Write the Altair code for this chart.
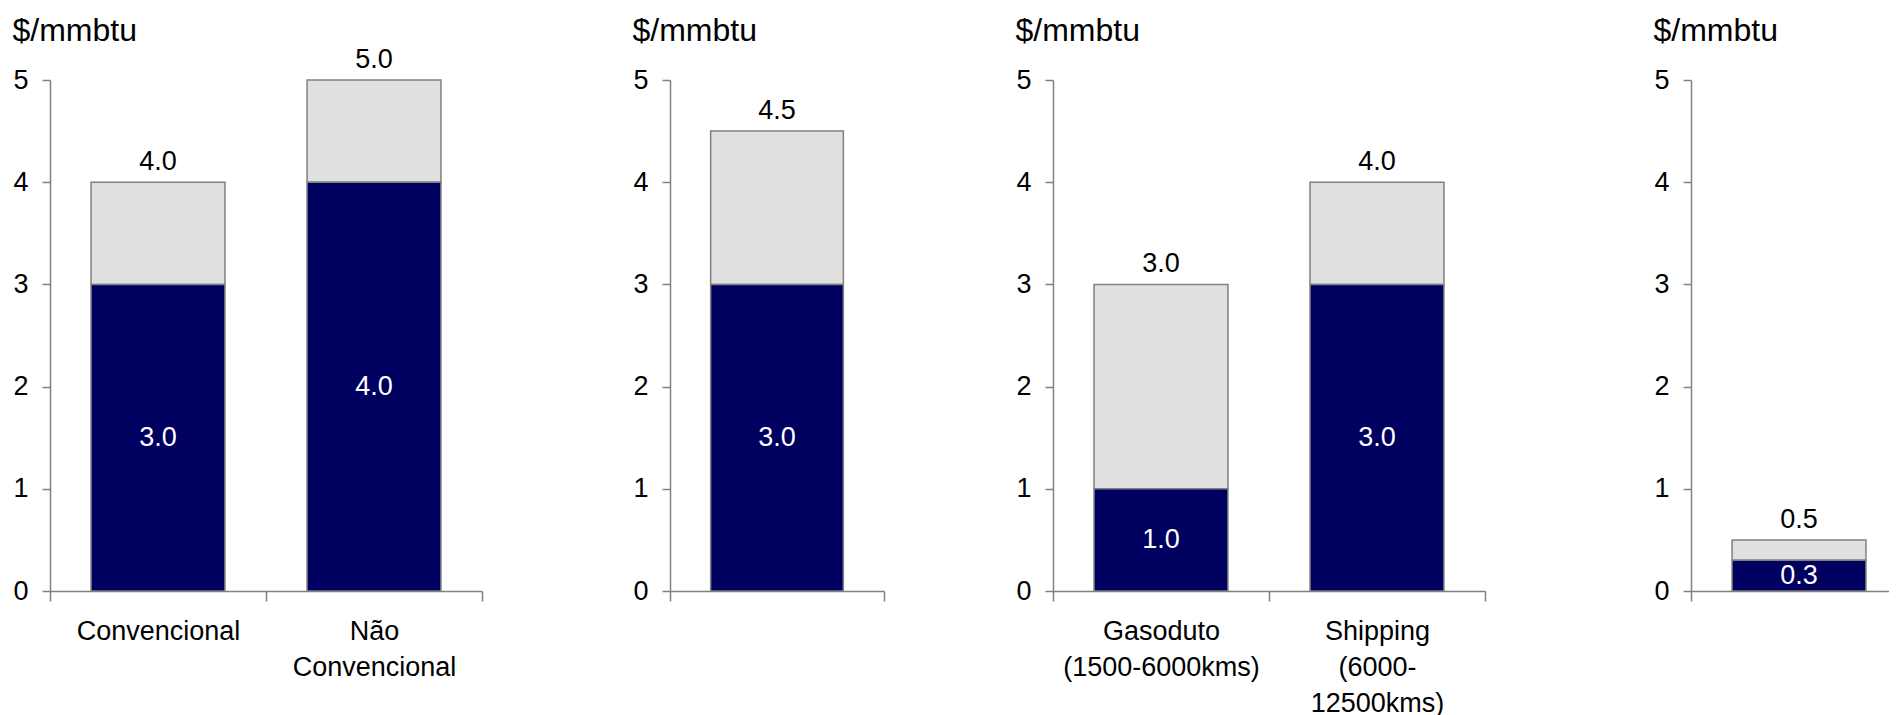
import altair as alt
import pandas as pd

# ---- data ----
panel_categories = [
    ["Convencional", "Não\nConvencional"],
    [""],
    ["Gasoduto\n(1500-6000kms)", "Shipping\n(6000-\n12500kms)"],
    [""],
]
base_values = [[3.0, 4.0], [3.0], [1.0, 3.0], [0.3]]
total_values = [[4.0, 5.0], [4.5], [3.0, 4.0], [0.5]]
y_ticks = [0, 1, 2, 3, 4, 5]
y_domain = [0, 5]
unit_label = "$/mmbtu"

# ---- layout / style ----
range_widths = [432, 214, 432, 216]
extra_widths = [26, 7, 44, 0]
plot_height = 511
FONT = "Liberation Sans"
DARK = "#000060"
LIGHT = "#E0E0E0"
GRAY = "#808080"
BAR_BAND = 0.62
FS = 27
SVG_W = 1881
SVG_H = 707
PAD_L = 42
PAD_T = 72


def make_panel(i):
    cats = panel_categories[i]
    df = pd.DataFrame({
        "cat": cats,
        "base": base_values[i],
        "total": total_values[i],
    })
    df["zero"] = 0.0
    df["base_mid"] = df["base"] / 2

    has_labels = any(c != "" for c in cats)
    x_axis = alt.Axis(
        title=None,
        labelAngle=0,
        labels=has_labels,
        labelExpr="split(datum.label, '\\n')",
        tickBand="extent",
        tickSize=10,
        labelPadding=17,
        labelLineHeight=36,
        labelFontSize=FS,
        labelColor="black",
        labelFont=FONT,
        labelLimit=0,
    )
    x = alt.X(
        "cat:N",
        sort=cats,
        scale=alt.Scale(range=[0, range_widths[i]], paddingInner=0, paddingOuter=0),
        axis=x_axis,
    )
    y_axis = alt.Axis(
        values=y_ticks,
        title=unit_label,
        titleAngle=0,
        titleAlign="left",
        titleBaseline="alphabetic",
        titleX=-38,
        titleY=-40,
        titleFontSize=32,
        titleFontWeight="normal",
        titleFont=FONT,
        titleColor="black",
        tickSize=8,
        labelPadding=14,
        labelFontSize=FS,
        labelFont=FONT,
        labelColor="black",
        grid=False,
    )
    yscale = alt.Scale(domain=y_domain, nice=False)

    base_chart = alt.Chart(df)
    light = base_chart.mark_bar(
        color=LIGHT, stroke=GRAY, strokeWidth=1.5, width=alt.RelativeBandSize(BAR_BAND)
    ).encode(
        x=x,
        y=alt.Y("base:Q", scale=yscale, axis=y_axis),
        y2="total:Q",
    )
    dark = base_chart.mark_bar(
        color=DARK, stroke=GRAY, strokeWidth=1.5, width=alt.RelativeBandSize(BAR_BAND)
    ).encode(
        x=x,
        y=alt.Y("zero:Q", scale=yscale, axis=y_axis),
        y2="base:Q",
    )
    dark_text = base_chart.mark_text(
        color="white", baseline="middle", fontSize=FS, font=FONT
    ).encode(
        x=x,
        y=alt.Y("base_mid:Q", scale=yscale, axis=y_axis),
        text=alt.Text("base:Q", format=".1f"),
    )
    total_text = base_chart.mark_text(
        color="black", baseline="alphabetic", dy=-12, fontSize=FS, font=FONT
    ).encode(
        x=x,
        y=alt.Y("total:Q", scale=yscale, axis=y_axis),
        text=alt.Text("total:Q", format=".1f"),
    )
    return alt.layer(light, dark, dark_text, total_text).properties(
        width=range_widths[i] + extra_widths[i], height=plot_height
    )


chart = (
    alt.hconcat(*[make_panel(i) for i in range(4)], spacing=124)
    .properties(
        autosize=alt.AutoSizeParams(type="none"),
        padding={"left": PAD_L, "top": PAD_T, "right": SVG_W - PAD_L, "bottom": SVG_H - PAD_T},
        background="white",
    )
    .configure_view(stroke=None)
    .configure_axis(domainColor=GRAY, tickColor=GRAY, domainWidth=1.5, tickWidth=1.5)
)

chart.save("out.html", embed_options={"renderer": "svg", "actions": False})
